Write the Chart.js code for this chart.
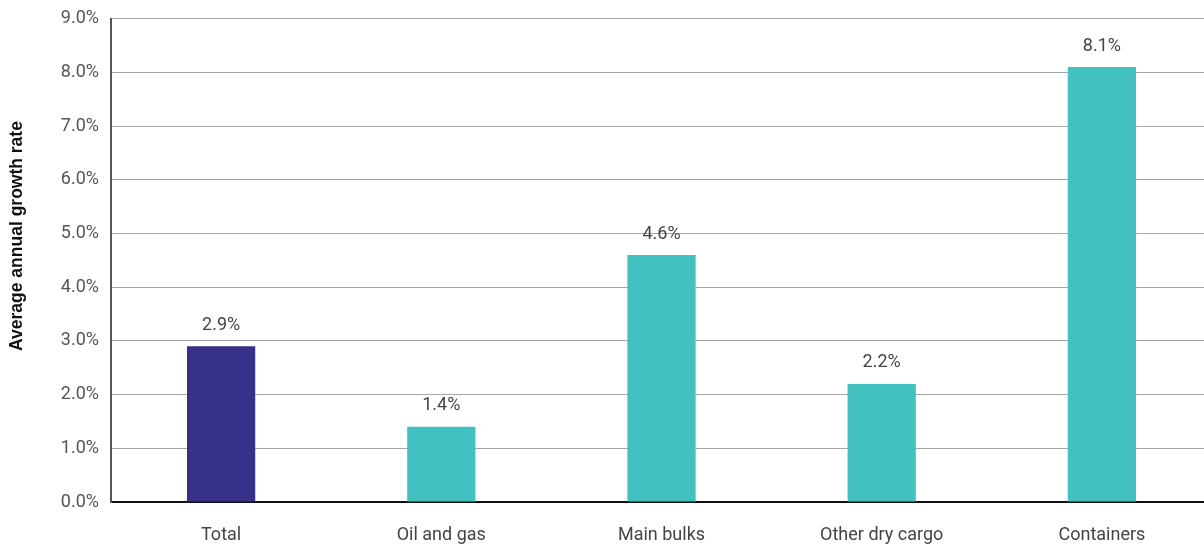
<!DOCTYPE html>
<html>
<head>
<meta charset="utf-8">
<script src="https://cdn.jsdelivr.net/npm/chart.js@4.4.1/dist/chart.umd.min.js"></script>
<style>
  html, body { margin: 0; padding: 0; background: #fff; overflow: hidden; }
  #frame { width: 1204px; height: 544px; position: relative; overflow: hidden; }
  /* plot runs a little past the right edge and the top labels sit tight to the top */
  #wrap { width: 1212px; height: 548px; position: absolute; left: 0; top: -4px; }
</style>
</head>
<body>
<div id="frame"><div id="wrap"><canvas id="growthChart"></canvas></div></div>
<script>
// Average annual growth rate by cargo type
const categories = ['Total', 'Oil and gas', 'Main bulks', 'Other dry cargo', 'Containers'];
const growthRates = [2.9, 1.4, 4.6, 2.2, 8.1];
const barColors = ['#363089', '#43C1C0', '#43C1C0', '#43C1C0', '#43C1C0'];
const yAxisTitle = 'Average annual growth rate';

// Small plugin to print the value above each bar
const valueLabels = {
    id: 'valueLabels',
    afterDatasetsDraw(chart) {
        const ctx = chart.ctx;
        const meta = chart.getDatasetMeta(0);
        ctx.save();
        ctx.font = '400 18px Roboto';
        ctx.fillStyle = '#444';
        ctx.textAlign = 'center';
        ctx.textBaseline = 'middle';
        meta.data.forEach((bar, i) => {
            ctx.fillText(growthRates[i].toFixed(1) + '%', bar.x, bar.y - 21);
        });
        ctx.restore();
    }
};

// Vertical axis title, sitting a little above the middle of the plot
const axisTitle = {
    id: 'axisTitle',
    afterDraw(chart) {
        const ctx = chart.ctx;
        ctx.save();
        ctx.translate(17, 240);
        ctx.rotate(-Math.PI / 2);
        ctx.font = 'bold 17.5px "Liberation Sans", Arial, sans-serif';
        ctx.fillStyle = '#111';
        ctx.textAlign = 'center';
        ctx.textBaseline = 'middle';
        ctx.fillText(yAxisTitle, 0, 0);
        ctx.restore();
    }
};

const tickFont = { family: 'Roboto', size: 18, weight: '400' };

new Chart(document.getElementById('growthChart'), {
    type: 'bar',
    plugins: [valueLabels, axisTitle],
    data: {
        labels: categories,
        datasets: [{
            data: growthRates,
            backgroundColor: barColors,
            borderWidth: 0,
            categoryPercentage: 1,
            barPercentage: 0.31
        }]
    },
    options: {
        responsive: true,
        maintainAspectRatio: false,
        animation: false,
        layout: { padding: { top: 4, right: 0, bottom: 0, left: 8 } },
        plugins: {
            legend: { display: false },
            tooltip: { enabled: false }
        },
        scales: {
            x: {
                grid: { display: false, drawTicks: false },
                border: { display: true, color: '#111', width: 2 },
                ticks: { padding: 23, color: '#444', font: tickFont },
                afterFit: scale => { scale.height = 42; }
            },
            y: {
                min: 0,
                max: 9,
                grid: { color: '#a6a6a6', lineWidth: 1, drawTicks: false },
                border: { display: true, color: '#555', width: 2 },
                ticks: {
                    stepSize: 1,
                    padding: 12,
                    color: '#555',
                    font: tickFont,
                    callback: v => v.toFixed(1) + '%'
                },
                afterFit: scale => { scale.width = 103; }
            }
        }
    }
});
</script>
</body>
</html>
